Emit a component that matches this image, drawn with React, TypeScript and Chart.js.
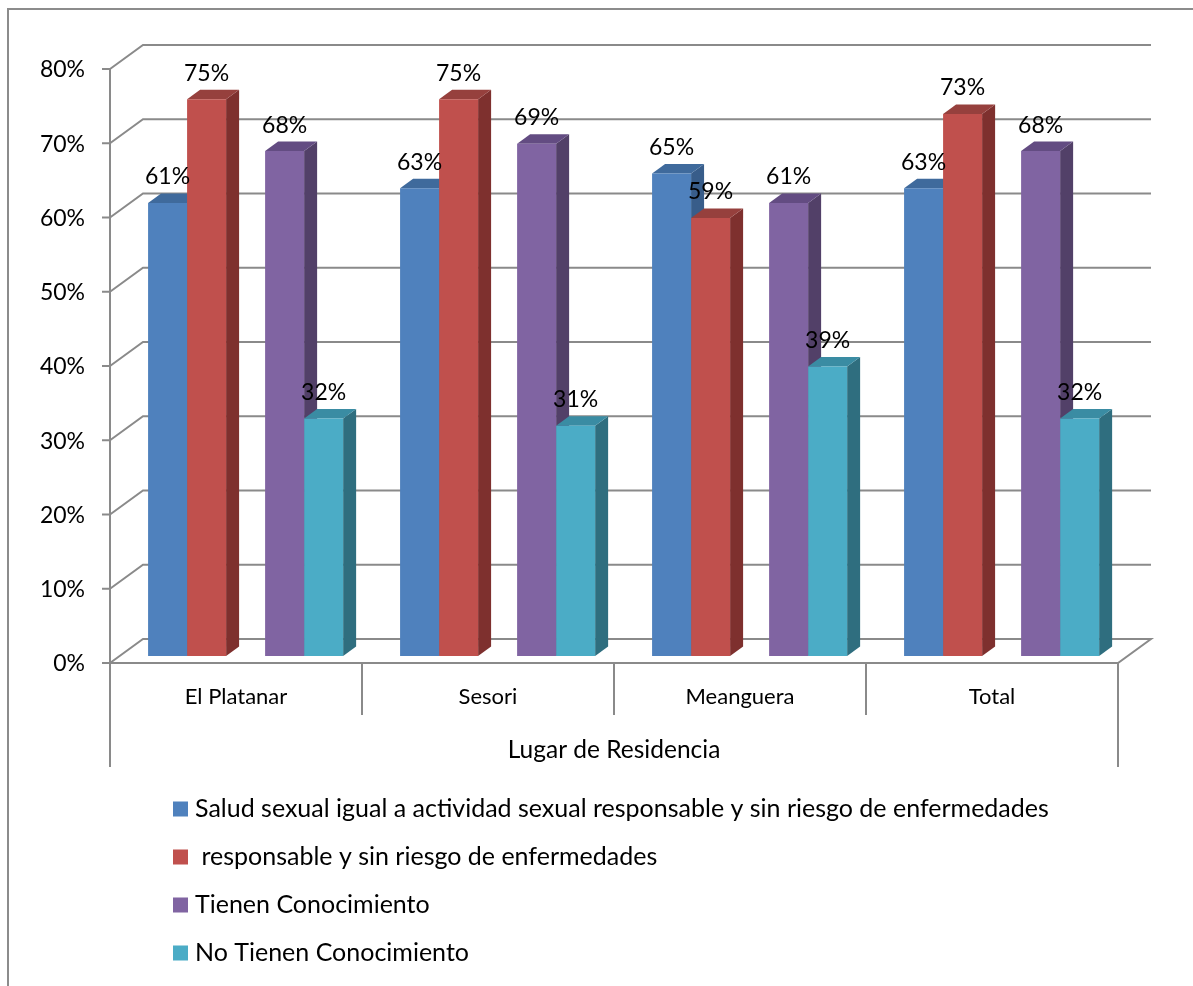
import React, { useEffect, useRef } from "react";
import { Chart, registerables } from "chart.js";

Chart.register(...registerables);

// Categories and series values (percent)
const categories = ["El Platanar", "Sesori", "Meanguera", "Total"];
const saludSexual = [61, 63, 65, 63];
const responsable = [75, 75, 59, 73];
const tienenConocimiento = [68, 69, 61, 68];
const noTienenConocimiento = [32, 31, 39, 32];
const emptySlot = [null, null, null, null];

const seriesLabels = [
  "Salud sexual igual a actividad sexual responsable y sin riesgo de enfermedades",
  " responsable y sin riesgo de enfermedades",
  "",
  "Tienen Conocimiento",
  "No Tienen Conocimiento",
];
const frontColors = ["#4F81BD", "#C0504D", "#000000", "#8064A2", "#4BACC6"];
const topColors = ["#3F6A9C", "#96403D", "#000000", "#634C82", "#3A8CA3"];
const sideColors = ["#385D8A", "#7E302E", "#000000", "#524068", "#2F6E7F"];

const axisTitle = "Lugar de Residencia";
const yMin = 0;
const yMax = 80;
const yStep = 10;

const FONT = "Lato, 'Open Sans', sans-serif";
const GRID = "#8A8A8A";

// Oblique offsets of the front and back planes relative to the bar plane
const FRONT = { dx: -9.6, dy: 7 };
const BACK = { dx: 23.4, dy: -17 };
const BAR_DEPTH = { dx: 13, dy: -9.5 };

const threeD = {
  id: "threeD",
  beforeDatasetsDraw(chart: any) {
    const { ctx, chartArea } = chart;
    const { left, right } = chartArea;
    const y = chart.scales.y;
    const x = chart.scales.x;
    ctx.save();

    // outer frame
    ctx.strokeStyle = "#8C8C8C";
    ctx.lineWidth = 2;
    ctx.beginPath();
    ctx.moveTo(8, 986);
    ctx.lineTo(8, 9);
    ctx.lineTo(1193, 9);
    ctx.stroke();

    // walls and gridlines
    ctx.strokeStyle = GRID;
    ctx.lineWidth = 2;
    ctx.font = `23px ${FONT}`;
    ctx.fillStyle = "#000";
    ctx.textAlign = "right";
    ctx.textBaseline = "middle";
    y.ticks.forEach((t: any) => {
      const py = y.getPixelForValue(t.value);
      const fx = left + FRONT.dx;
      const fy = py + FRONT.dy;
      ctx.beginPath();
      if (t.value === yMin) {
        ctx.moveTo(fx, fy);
        ctx.lineTo(left + BACK.dx, py + BACK.dy);
        ctx.lineTo(right + BACK.dx, py + BACK.dy);
        ctx.lineTo(right + FRONT.dx, fy);
        ctx.lineTo(fx, fy);
      } else {
        ctx.moveTo(fx, fy);
        ctx.lineTo(left + BACK.dx, py + BACK.dy);
        ctx.lineTo(right + BACK.dx, py + BACK.dy);
      }
      ctx.moveTo(fx - 8, fy);
      ctx.lineTo(fx, fy);
      ctx.stroke();
      ctx.fillText(`${t.value}%`, fx - 25, fy + 1);
    });

    const y0 = y.getPixelForValue(yMin) + FRONT.dy;
    const yTop = y.getPixelForValue(yMax) + FRONT.dy;
    const catW = (right - left) / categories.length;
    ctx.beginPath();
    ctx.moveTo(left + FRONT.dx, yTop);
    ctx.lineTo(left + FRONT.dx, y0 + 104);
    for (let i = 0; i <= categories.length; i++) {
      const bx = left + FRONT.dx + i * catW;
      ctx.moveTo(bx, y0);
      ctx.lineTo(bx, i === 0 || i === categories.length ? y0 + 104 : y0 + 52);
    }
    ctx.stroke();

    // category labels and axis title
    ctx.textAlign = "center";
    ctx.font = `22px ${FONT}`;
    categories.forEach((c, i) => {
      ctx.fillText(c, x.getPixelForValue(i) + FRONT.dx, y0 + 34);
    });
    ctx.font = `24.5px ${FONT}`;
    ctx.fillText(axisTitle, (left + right) / 2 + FRONT.dx, y0 + 87);

    // top and side faces of the bars, painted left to right
    const items: any[] = [];
    chart.data.datasets.forEach((ds: any, di: number) => {
      const meta = chart.getDatasetMeta(di);
      meta.data.forEach((el: any, i: number) => {
        if (ds.data[i] == null) return;
        items.push({ el, di });
      });
    });
    items.sort((a, b) => a.el.x - b.el.x);
    items.forEach(({ el, di }) => {
      const x0 = el.x - el.width / 2;
      const x1 = el.x + el.width / 2;
      const top = el.y;
      const base = el.base;
      ctx.fillStyle = sideColors[di];
      ctx.beginPath();
      ctx.moveTo(x1, top);
      ctx.lineTo(x1 + BAR_DEPTH.dx, top + BAR_DEPTH.dy);
      ctx.lineTo(x1 + BAR_DEPTH.dx, base + BAR_DEPTH.dy);
      ctx.lineTo(x1, base);
      ctx.closePath();
      ctx.fill();
      ctx.fillStyle = topColors[di];
      ctx.beginPath();
      ctx.moveTo(x0, top);
      ctx.lineTo(x0 + BAR_DEPTH.dx, top + BAR_DEPTH.dy);
      ctx.lineTo(x1 + BAR_DEPTH.dx, top + BAR_DEPTH.dy);
      ctx.lineTo(x1, top);
      ctx.closePath();
      ctx.fill();
    });
    ctx.restore();
  },
  afterDatasetsDraw(chart: any) {
    const { ctx } = chart;
    ctx.save();
    ctx.font = `23px ${FONT}`;
    ctx.fillStyle = "#000";
    ctx.textAlign = "center";
    ctx.textBaseline = "middle";
    chart.data.datasets.forEach((ds: any, di: number) => {
      const meta = chart.getDatasetMeta(di);
      meta.data.forEach((el: any, i: number) => {
        const v = ds.data[i];
        if (v == null) return;
        ctx.fillText(`${v}%`, el.x, el.y - 26);
      });
    });

    // legend
    ctx.textAlign = "left";
    ctx.font = `25px ${FONT}`;
    let row = 0;
    chart.data.datasets.forEach((ds: any, di: number) => {
      if (!ds.label) return;
      const cy = 809 + row * 48;
      ctx.fillStyle = frontColors[di];
      ctx.fillRect(173, cy - 7.5, 15, 15);
      ctx.fillStyle = "#000";
      ctx.fillText(ds.label, 195, cy);
      row++;
    });
    ctx.restore();
  },
};

export default function App() {
  const ref = useRef<HTMLCanvasElement>(null);
  useEffect(() => {
    if (!ref.current) return;
    const series = [saludSexual, responsable, emptySlot, tienenConocimiento, noTienenConocimiento];
    const chart = new Chart(ref.current, {
      type: "bar",
      data: {
        labels: categories,
        datasets: series.map((d, i) => ({
          label: seriesLabels[i],
          data: d,
          backgroundColor: frontColors[i],
          borderWidth: 0,
          categoryPercentage: 0.774,
          barPercentage: 1,
        })),
      },
      options: {
        responsive: false,
        animation: false,
        events: [],
        layout: { padding: { left: 119.6, right: 65.4, top: 62, bottom: 330 } },
        plugins: { legend: { display: false }, tooltip: { enabled: false } },
        scales: {
          x: { display: false },
          y: { display: false, min: yMin, max: yMax, ticks: { stepSize: yStep } },
        },
      },
      plugins: [threeD],
    });
    return () => chart.destroy();
  }, []);
  return (
    <div style={{ position: "absolute", left: 0, top: 0, width: 1193, height: 986, background: "#fff" }}>
      <canvas ref={ref} width={1193} height={986} style={{ display: "block" }} />
    </div>
  );
}
